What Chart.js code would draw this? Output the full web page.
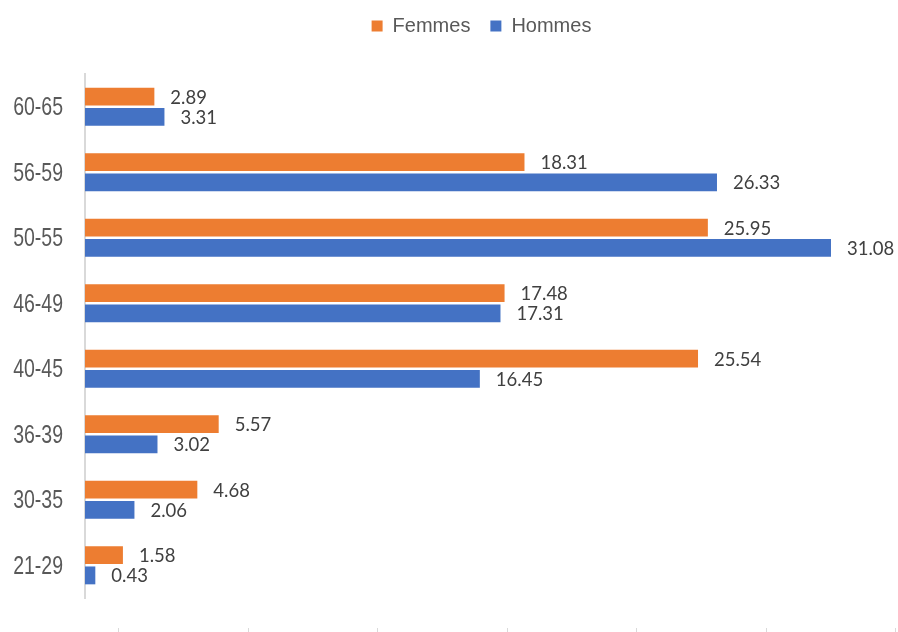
<!DOCTYPE html>
<html><head><meta charset="utf-8">
<script src="https://cdn.jsdelivr.net/npm/chart.js@4.4.0/dist/chart.umd.min.js"></script>
<style>html,body{margin:0;padding:0;background:#fff}</style>
</head><body>
<canvas id="c" width="898" height="632"></canvas>
<script>
const categories = ['60-65','56-59','50-55','46-49','40-45','36-39','30-35','21-29'];
const seriesNames = ['Femmes','Hommes'];
const femmes = [2.89, 18.31, 25.95, 17.48, 25.54, 5.57, 4.68, 1.58];
const hommes = [3.31, 26.33, 31.08, 17.31, 16.45, 3.02, 2.06, 0.43];
const seriesColors = ['#ED7D31', '#4472C4'];

const valueLabels = {
  id: 'valueLabels',
  afterDatasetsDraw(chart) {
    const ctx = chart.ctx;
    ctx.save();
    ctx.font = '18.5px Lato';
    ctx.fillStyle = '#404040';
    ctx.textAlign = 'left';
    ctx.textBaseline = 'middle';
    chart.data.datasets.forEach((ds, i) => {
      chart.getDatasetMeta(i).data.forEach((bar, j) => {
        ctx.fillText(ds.data[j].toFixed(2), bar.x + 16, bar.y + 1);
      });
    });
    ctx.restore();
  }
};

// condensed category labels drawn at the y scale's own tick positions
const narrowTicks = {
  id: 'narrowTicks',
  afterDraw(chart) {
    const scale = chart.scales.y;
    const ctx = chart.ctx;
    ctx.save();
    ctx.font = '25px "Liberation Sans"';
    ctx.fillStyle = '#595959';
    ctx.textAlign = 'right';
    ctx.textBaseline = 'middle';
    scale.ticks.forEach((t, i) => {
      const y = scale.getPixelForTick(i);
      ctx.save();
      ctx.translate(scale.right - 22, y + 1.5);
      ctx.scale(0.78, 1);
      ctx.fillText(scale.getLabelForValue(t.value), 0, 0);
      ctx.restore();
    });
    ctx.restore();
  }
};

const legendTweak = {
  id: 'legendTweak',
  beforeUpdate(chart) {
    const lg = chart.legend;
    if (lg && !lg._patched) {
      const origFit = lg.fit;
      lg.fit = function () { origFit.call(this); this.height = 74; };
      const origDraw = lg.draw;
      lg.draw = function () {
        const ctx = this.ctx;
        ctx.save();
        ctx.translate(33, -4);
        origDraw.call(this);
        ctx.restore();
      };
      lg._patched = true;
    }
  }
};

new Chart(document.getElementById('c'), {
  type: 'bar',
  data: {
    labels: categories,
    datasets: [
      { label: seriesNames[0], data: femmes, backgroundColor: seriesColors[0] },
      { label: seriesNames[1], data: hommes, backgroundColor: seriesColors[1] }
    ]
  },
  options: {
    indexAxis: 'y',
    responsive: false,
    animation: false,
    layout: { padding: { left: 0, right: 1, top: 0, bottom: 0 } },
    categoryPercentage: 0.62,
    barPercentage: 0.88,
    plugins: {
      tooltip: { enabled: false },
      legend: {
        position: 'top',
        labels: {
          font: { family: 'Liberation Sans', size: 20 },
          color: '#595959',
          boxWidth: 11,
          boxHeight: 11,
          padding: 20
        }
      }
    },
    scales: {
      x: {
        type: 'linear', position: 'bottom', weight: 0,
        min: 0, max: 33.83,
        ticks: { display: false },
        grid: { display: false, drawTicks: false },
        border: { display: false },
        afterFit(s) { s.height = 30; }
      },
      x2: {
        type: 'linear', position: 'bottom', weight: 1,
        min: -0.2625, max: 6.008,
        ticks: { display: false, stepSize: 1, includeBounds: false },
        grid: { drawOnChartArea: false, drawTicks: true, tickLength: 4, tickColor: '#d9d9d9', color: '#d9d9d9' },
        border: { display: false },
        afterFit(s) { s.height = 4; }
      },
      y: {
        grid: { display: false, drawTicks: false },
        border: { display: true, color: '#d9d9d9', width: 2 },
        ticks: { display: false },
        afterFit(s) { s.width = 85; }
      }
    }
  },
  plugins: [valueLabels, narrowTicks, legendTweak]
});
</script>
</body></html>
